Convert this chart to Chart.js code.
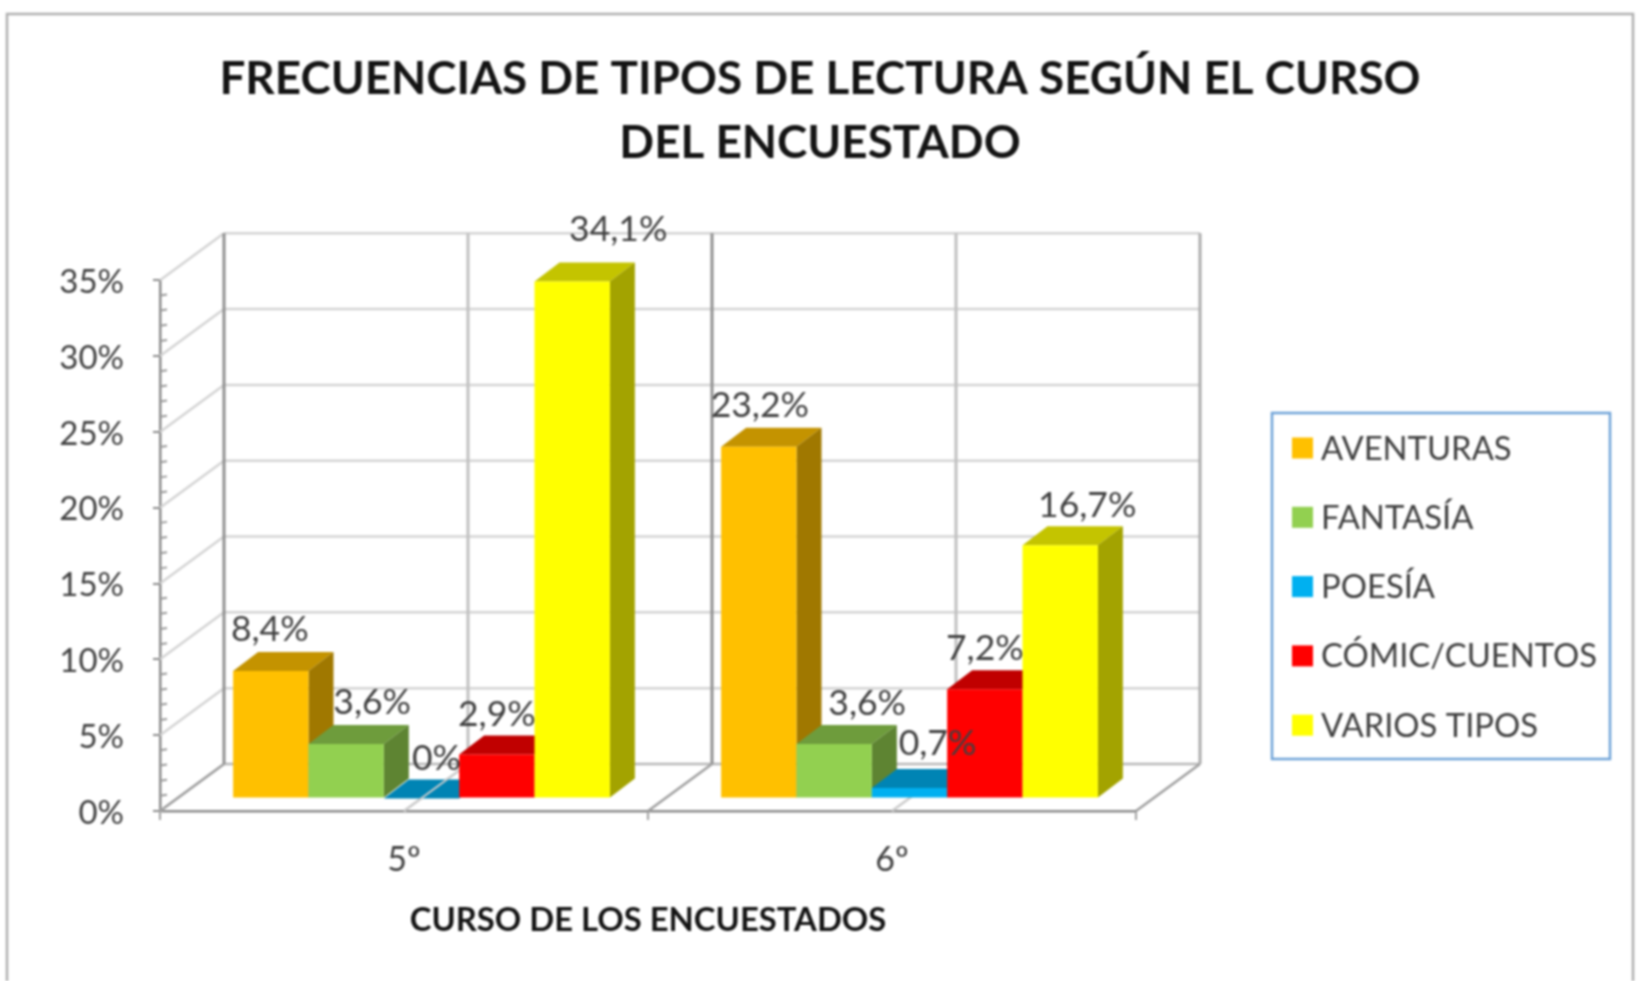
<!DOCTYPE html>
<html>
<head>
<meta charset="utf-8">
<title>Frecuencias de tipos de lectura</title>
<script src="https://cdn.jsdelivr.net/npm/chart.js@4"></script>
<style>
    body { margin: 0; background: #ffffff; }
    canvas { display: block; filter: blur(0.8px); }
</style>
</head>
<body>
<canvas id="chart" width="1640" height="981"></canvas>
<script>
// Tipos de lectura por curso (bar chart with faked 3D walls and bar sides)

const cursos = ['5º', '6º'];
const aventuras = [8.4, 23.2];
const fantasia = [3.6, 3.6];
const poesia = [0, 0.7];
const comic = [2.9, 7.2];
const varios = [34.1, 16.7];
const tipos = ['AVENTURAS', 'FANTASÍA', 'POESÍA', 'CÓMIC/CUENTOS', 'VARIOS TIPOS'];

const frontColors = ['#FFC000', '#92D050', '#00B0F0', '#FF0000', '#FFFF00'];
const topColors = ['#C49300', '#6E9C3C', '#0084B4', '#C00000', '#C4C400'];
const sideColors = ['#A07800', '#5E8432', '#006F98', '#A00000', '#A3A300'];

// label offset from the top centre of each bar, the original moved them by hand
const labelNudge = [
    [[-1, -42], [1, -41]],
    [[26, -41], [33, -40]],
    [[15, -40], [28, -44]],
    [[0, -40], [0, -41]],
    [[46, -52], [27, -40]]
];

const FONT = 'Lato, sans-serif';
const WALL = { dx: 64, dy: -47 };   // front axes to back wall
const PLANE = { dx: 17.5, dy: -12.5 }; // front axes to the front of the bars
const DEPTH = { dx: 25, dy: -19 };  // bar depth

function poly(ctx, color, pts) {
    ctx.fillStyle = color;
    ctx.beginPath();
    pts.forEach((p, i) => i ? ctx.lineTo(p[0], p[1]) : ctx.moveTo(p[0], p[1]));
    ctx.closePath();
    ctx.fill();
}

function line(ctx, color, width, x1, y1, x2, y2) {
    ctx.strokeStyle = color;
    ctx.lineWidth = width;
    ctx.beginPath();
    ctx.moveTo(x1, y1);
    ctx.lineTo(x2, y2);
    ctx.stroke();
}

function drawWalls(chart) {
    const ctx = chart.ctx;
    const y = chart.scales.y;
    const { left, right, bottom, top } = chart.chartArea;
    const step = (right - left) / 4;

    y.ticks.forEach(t => {
        const py = y.getPixelForValue(t.value);
        line(ctx, '#D4D4D4', 2.5, left, py, left + WALL.dx, py + WALL.dy);
        line(ctx, t.value === 0 ? '#B8B8B8' : '#D4D4D4', 2.5, left + WALL.dx, py + WALL.dy, right + WALL.dx, py + WALL.dy);
    });
    for (let i = 0; i <= 4; i++) {
        const x = left + i * step + WALL.dx;
        const color = i % 2 ? '#C0C0C0' : '#909090';
        line(ctx, i === 4 ? '#ACACAC' : color, 3, x, top + WALL.dy, x, bottom + WALL.dy);
        line(ctx, i % 2 ? '#CCCCCC' : '#A0A0A0', 2.5, left + i * step, bottom, x, bottom + WALL.dy);
    }
    // small ticks every 1%
    for (let v = 0; v <= 35; v++) {
        const py = y.getPixelForValue(v);
        if (v % 5) line(ctx, '#999999', 2, left, py, left + 7, py - 1);
    }
}

function drawSides(chart, index) {
    const ctx = chart.ctx;
    chart.getDatasetMeta(index).data.forEach(bar => {
        const half = bar.width / 2;
        const l = bar.x - half, r = bar.x + half;
        const base = bar.base, t = bar.y;
        poly(ctx, topColors[index], [[l, t], [r, t], [r + DEPTH.dx, t + DEPTH.dy], [l + DEPTH.dx, t + DEPTH.dy]]);
        poly(ctx, sideColors[index], [[r, t], [r + DEPTH.dx, t + DEPTH.dy], [r + DEPTH.dx, base + DEPTH.dy], [r, base]]);
    });
}

// the floor line stays visible across a bar with no height
function drawFloorOverFlatBars(chart, index) {
    const { left, right, bottom } = chart.chartArea;
    const step = (right - left) / 4;
    chart.data.datasets[index].data.forEach((v, j) => {
        if (v !== 0) return;
        const x = left + (2 * j + 1) * step - PLANE.dx;
        line(chart.ctx, '#CCCCCC', 2, x, bottom - PLANE.dy, x + WALL.dx, bottom - PLANE.dy + WALL.dy);
    });
}

function drawValues(chart) {
    const ctx = chart.ctx;
    ctx.font = '35.5px ' + FONT;
    ctx.fillStyle = '#404040';
    ctx.textAlign = 'center';
    ctx.textBaseline = 'middle';
    chart.data.datasets.forEach((ds, i) => {
        chart.getDatasetMeta(i).data.forEach((bar, j) => {
            const text = String(ds.data[j]).replace('.', ',') + '%';
            ctx.fillText(text, bar.x + labelNudge[i][j][0], bar.y + labelNudge[i][j][1]);
        });
    });
}

function drawLegend(chart) {
    const ctx = chart.ctx;
    ctx.strokeStyle = '#6FA3D8';
    ctx.lineWidth = 2.5;
    ctx.strokeRect(1272, 413, 338, 346);
    ctx.font = '32.8px ' + FONT;
    ctx.textAlign = 'left';
    ctx.textBaseline = 'middle';
    chart.data.datasets.forEach((ds, i) => {
        const cy = 448 + i * 69.3;
        ctx.fillStyle = ds.backgroundColor;
        ctx.fillRect(1292, cy - 10.5, 21, 21);
        ctx.fillStyle = '#404040';
        ctx.fillText(ds.label, 1321, cy + 1);
    });
}

const fakeThreeD = {
    id: 'fakeThreeD',
    beforeDraw(chart) {
        const ctx = chart.ctx;
        ctx.fillStyle = '#ffffff';
        ctx.fillRect(0, 0, chart.width, chart.height);
        ctx.strokeStyle = '#B0B0B0';
        ctx.lineWidth = 2.5;
        ctx.strokeRect(7, 14, 1626, 1000);
        // Lato digits sit a little high, push the tick labels down
        chart.scales.y.getLabelItems().forEach(item => { item.options.translation[1] += 2; });
    },
    beforeDatasetsDraw(chart) {
        const ctx = chart.ctx;
        drawWalls(chart);
        ctx.save();
        ctx.translate(PLANE.dx, PLANE.dy);
        // left to right, Chart.js would paint the last dataset first
        chart.data.datasets.forEach((ds, i) => {
            drawSides(chart, i);
            chart.getDatasetMeta(i).controller.draw();
            drawFloorOverFlatBars(chart, i);
        });
        drawValues(chart);
        ctx.restore();
        return false;
    },
    afterDraw(chart) {
        drawLegend(chart);
    }
};

const series = [aventuras, fantasia, poesia, comic, varios];

new Chart(document.getElementById('chart'), {
    type: 'bar',
    data: {
        labels: cursos,
        datasets: series.map((values, i) => ({
            label: tipos[i],
            data: values,
            backgroundColor: frontColors[i],
            barPercentage: 1,
            categoryPercentage: 0.772
        }))
    },
    options: {
        responsive: false,
        animation: false,
        plugins: {
            legend: { display: false },
            tooltip: { enabled: false },
            title: {
                display: true,
                text: ['FRECUENCIAS DE TIPOS DE LECTURA SEGÚN EL CURSO', 'DEL ENCUESTADO'],
                color: '#141414',
                font: { family: FONT, size: 45.8, weight: 'bold', lineHeight: 1.4 },
                padding: { top: 47, bottom: 105 }
            }
        },
        scales: {
            x: {
                afterFit: s => { s.height = 170; },
                grid: { drawOnChartArea: false, tickLength: 9, color: '#A0A0A0', lineWidth: 2 },
                border: { color: '#8C8C8C', width: 2.5 },
                ticks: { color: '#404040', font: { family: FONT, size: 34 }, padding: 20 },
                title: {
                    display: true,
                    text: 'CURSO DE LOS ENCUESTADOS',
                    color: '#141414',
                    font: { family: FONT, size: 32.8, weight: 'bold' },
                    padding: { top: 20, bottom: 41 }
                }
            },
            y: {
                min: 0,
                max: 35,
                afterFit: s => { s.width = 160; },
                grid: { drawOnChartArea: false, tickLength: 7, color: '#8C8C8C', lineWidth: 2 },
                border: { color: '#8C8C8C', width: 2.5 },
                ticks: {
                    stepSize: 5,
                    color: '#404040',
                    font: { family: FONT, size: 33 },
                    padding: 29,
                    callback: v => v + '%'
                }
            },
            // empty axis that keeps the room for the legend, title stays centred on the page
            legendRoom: {
                position: 'right',
                afterFit: s => { s.width = 504; },
                grid: { display: false },
                border: { display: false },
                ticks: { display: false }
            }
        }
    },
    plugins: [fakeThreeD]
});
</script>
</body>
</html>
